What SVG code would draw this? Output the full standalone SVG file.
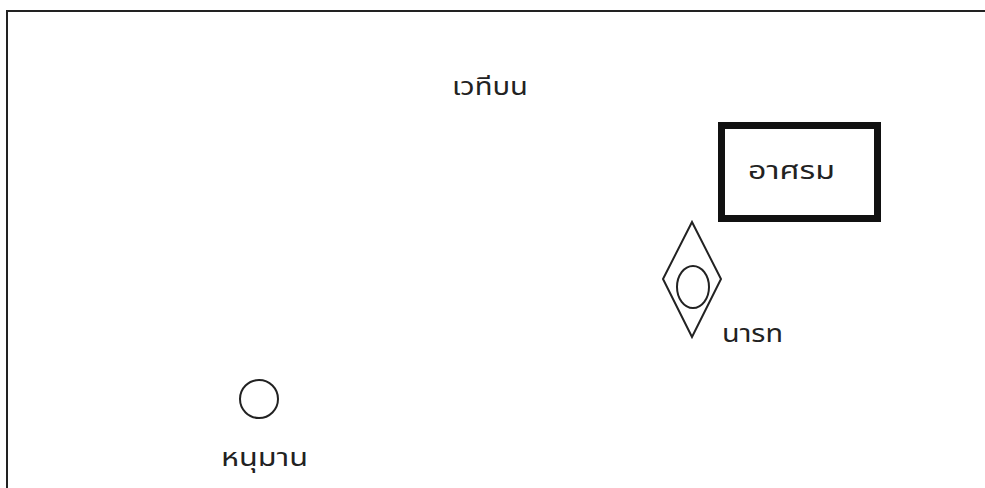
<svg xmlns="http://www.w3.org/2000/svg" width="985" height="488" viewBox="0 0 985 488">
<style>
text{font-family:"Noto Sans Thai","Loma","Garuda","Noto Sans","DejaVu Sans",sans-serif;font-size:24px;fill:#222}
.ln{fill:none;stroke:#222;stroke-width:2}
</style>
<rect width="985" height="488" fill="#fff"/>
<g id="stage">
<polyline class="ln" points="7,488 7,11 985,11"/>
<text x="452" y="95" textLength="76" lengthAdjust="spacingAndGlyphs">เวทีบน</text>
</g>
<g id="ashram">
<rect x="721.5" y="125.5" width="156" height="93" fill="none" stroke="#111" stroke-width="7"/>
<text x="748" y="179" textLength="87" lengthAdjust="spacingAndGlyphs">อาศรม</text>
</g>
<g id="narada">
<polygon class="ln" points="692,222 721,279 692,337 663,279"/>
<ellipse class="ln" cx="693" cy="287" rx="16" ry="21"/>
<text x="722" y="342" textLength="61" lengthAdjust="spacingAndGlyphs">นารท</text>
</g>
<g id="hanuman">
<circle class="ln" cx="259" cy="399" r="19"/>
<text x="221" y="466" textLength="87" lengthAdjust="spacingAndGlyphs">หนุมาน</text>
</g>
<g id="connectors"/>
</svg>
